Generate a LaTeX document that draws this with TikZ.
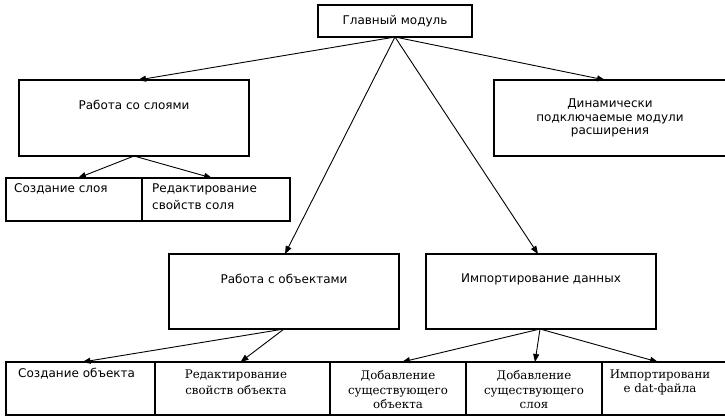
\documentclass[tikz,border=0pt]{standalone}
\usepackage{fontspec}
\setmainfont{DejaVu Sans}
\newfontfamily\serifcyr{DejaVu Serif}
\usetikzlibrary{arrows.meta}
\begin{document}
\begin{tikzpicture}[x=1pt,y=-1pt,
  box/.style={draw, line width=1.6pt, inner sep=0pt, outer sep=0pt, rectangle},
  lbl/.style={inner sep=0pt, font=\fontsize{12}{13.5}\selectfont, align=center},
  slbl/.style={inner sep=0pt, font=\serifcyr\fontsize{11.8}{14.5}\selectfont, align=center},
  arr/.style={line width=0.9pt, -{Triangle[length=8pt,width=6pt]}}]
\useasboundingbox (0,0) rectangle (725,420);
\fill[white] (0,0) rectangle (725,420);
\clip (0,0) rectangle (725,420);
% boxes
\node[box, minimum width=154pt, minimum height=32pt] (main) at (395,21) {};
\node[lbl] (tmain) at (395,21) {Главный модуль};
\node[box, minimum width=230pt, minimum height=76pt] (sloi) at (134,118) {};
\node[lbl] (tsloi) at (134,105) {Работа со слоями};
\node[box, minimum width=232pt, minimum height=76pt] (dyn) at (610,118) {};
\node[lbl] (tdyn) at (610,118) {Динамически\\подключаемые модули\\расширения};
\node[box, minimum width=136pt, minimum height=43pt] (c1) at (74,199.5) {};
\node[box, minimum width=148pt, minimum height=43pt] (c2) at (216,199.5) {};
\node[lbl, anchor=west] (tc1) at (14,189) {Создание слоя};
\node[lbl, anchor=west, align=left, font=\fontsize{12}{16.5}\selectfont] (tc2) at (152,196.5) {Редактирование\\свойств соля};
\node[box, minimum width=230pt, minimum height=75pt] (obj) at (284,291.5) {};
\node[lbl] (tobj) at (284,279) {Работа с объектами};
\node[box, minimum width=230pt, minimum height=75pt] (imp) at (541,291.5) {};
\node[lbl] (timp) at (541,279) {Импортирование данных};
\node[box, minimum width=149pt, minimum height=53pt] (d1) at (80.5,388.5) {};
\node[box, minimum width=175pt, minimum height=53pt] (d2) at (242.5,388.5) {};
\node[lbl, anchor=west] (td1) at (18,374) {Создание объекта};
\node[slbl, font=\serifcyr\fontsize{11.8}{16}\selectfont] (td2) at (236,382) {Редактирование\\свойств объекта};
\node[box, minimum width=136pt, minimum height=53pt] (e1) at (398,388.5) {};
\node[box, minimum width=136pt, minimum height=53pt] (e2) at (534,388.5) {};
\node[box, minimum width=124pt, minimum height=53pt] (e3) at (664,388.5) {};
\node[slbl] (te1) at (398,389.5) {Добавление\\существующего\\объекта};
\node[slbl] (te2) at (534,389.5) {Добавление\\существующего\\слоя};
\node[slbl] (te3) at (660,382.5) {Импортировани\\е dat-файла};
% connectors
\draw[arr] (main.south) -- ([xshift=4pt]sloi.north);
\draw[arr] (main.south) -- ([xshift=-5pt]dyn.north);
\draw[arr] (main.south) -- ([xshift=1pt]obj.north);
\draw[arr] (main.south) -- ([xshift=-3pt]imp.north);
\draw[arr] (sloi.south) -- ([xshift=4pt]c1.north);
\draw[arr] (sloi.south) -- ([xshift=-4pt]c2.north);
\draw[arr] (obj.south) -- ([xshift=2pt]d1.north);
\draw[arr] (obj.south) -- ([xshift=-2pt]d2.north);
\draw[arr] ([xshift=-1pt]imp.south) -- ([xshift=4pt]e1.north);
\draw[arr] ([xshift=-1pt]imp.south) -- ([xshift=1pt]e2.north);
\draw[arr] ([xshift=-1pt]imp.south) -- ([xshift=-6pt]e3.north);
\end{tikzpicture}
\end{document}
